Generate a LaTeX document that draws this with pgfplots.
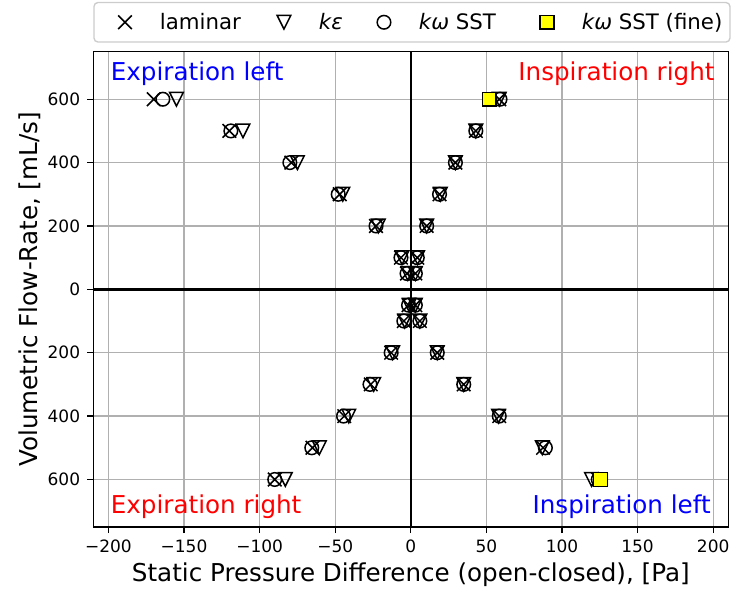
\documentclass[border=0pt]{standalone}
\usepackage{fontspec}
\setmainfont{DejaVu Sans}
\usepackage{pgfplots}
\usepackage{pgfplotstable}
\pgfplotsset{compat=1.18}
\definecolor{gridgray}{HTML}{B0B0B0}
\definecolor{legframe}{HTML}{CCCCCC}
\definecolor{fineyellow}{HTML}{FFFF00}
\pgfdeclareplotmark{tridown}{%
 \pgfpathmoveto{\pgfqpoint{0pt}{-\pgfplotmarksize}}%
 \pgfpathlineto{\pgfqpoint{-\pgfplotmarksize}{\pgfplotmarksize}}%
 \pgfpathlineto{\pgfqpoint{\pgfplotmarksize}{\pgfplotmarksize}}%
 \pgfpathclose\pgfusepathqstroke}
\pgfplotsset{myleg/.style={legend image code/.code={\path[draw=none,fill=none] (0bp,-10bp) rectangle (42bp,10bp); \draw[##1] plot coordinates {(21bp,0bp)};}}}

\pgfplotstableread{
x y
-170 600
-120 500
-79 400
-47 300
-23 200
-6.5 100
-2.5 50
-1.5 -50
-4.6 -100
-13 -200
-26.5 -300
-44 -400
-65 -500
-90 -600
58.5 600
43 500
29.5 400
19 300
10.5 200
4.3 100
3 50
3 -50
6 -100
17.5 -200
35 -300
58.5 -400
87.5 -500
124 -600
}\laminar

\pgfplotstableread{
x y
-155 600
-111 500
-75 400
-45 300
-21.5 200
-5.8 100
-2 50
-1 -50
-4 -100
-12 -200
-24.5 -300
-41 -400
-60.5 -500
-83 -600
58.5 600
43 500
29.5 400
19.5 300
10.5 200
4.5 100
3 50
3 -50
6 -100
17.5 -200
35 -300
58 -400
87 -500
119.5 -600
}\keps

\pgfplotstableread{
x y
-164 600
-119 500
-80 400
-48 300
-23 200
-6.5 100
-2.5 50
-1.5 -50
-4.6 -100
-13 -200
-27 -300
-44.5 -400
-65.5 -500
-90 -600
59 600
43 500
29.5 400
19 300
10.5 200
4.3 100
3 50
3 -50
6 -100
17.5 -200
35 -300
58.5 -400
89 -500
124 -600
}\komega

\pgfplotstableread{
x y
52 600
125.5 -600
}\komegafine

\begin{document}
\begin{tikzpicture}
\useasboundingbox (0,0) rectangle (732bp,589bp);
\begin{axis}[
  at={(93.3bp,62bp)}, anchor=south west,
  width=635bp, height=475.3bp, scale only axis,
  xmin=-210, xmax=210, ymin=-750, ymax=750,
  xtick={-200,-150,-100,-50,0,50,100,150,200},
  xticklabels={−200,−150,−100,−50,0,50,100,150,200},
  ytick={-600,-400,-200,0,200,400,600},
  yticklabels={600,400,200,0,200,400,600},
  grid=major,
  grid style={gridgray, line width=1.36bp},
  axis line style={black, line width=1.36bp},
  tick style={black, line width=1.36bp},
  major tick length=6bp,
  tick align=outside,
  xtick pos=bottom, ytick pos=left,
  ticklabel style={font=\fontsize{17bp}{20bp}\selectfont},
  xticklabel style={anchor=north, inner sep=0pt, yshift=-7bp},
  yticklabel style={anchor=east, inner sep=0pt, xshift=-7bp},
  xlabel={Static Pressure Difference (open-closed), [Pa]},
  ylabel={Volumetric Flow-Rate, [mL/s]},
  label style={font=\fontsize{24.6bp}{29bp}\selectfont, inner sep=0pt},
  xlabel style={at={(axis description cs:0.5,-0.1157)}, anchor=base},
  ylabel style={at={(axis description cs:-0.0879,0.5)}, anchor=base},
  legend columns=4,
  legend style={at={(rel axis cs:0,1)}, anchor=south west, yshift=9bp,
    draw=legframe, line width=1.36bp, rounded corners=4bp, fill=white,
    inner xsep=10bp, inner ysep=9.75bp, column sep=0pt,
    nodes={inner sep=0pt, anchor=west},
    font=\fontsize{21.3bp}{25bp}\selectfont},
]
\draw[black, line width=2.5bp] (axis cs:0,-750) -- (axis cs:0,750);
\draw[black, line width=2.5bp] (axis cs:-210,0) -- (axis cs:210,0);

\addplot[only marks, mark=x, mark size=9.6bp, mark options={black, line width=1.5bp}, myleg] table {\laminar};
\addlegendentry{\makebox[117bp][l]{\hspace*{14bp}laminar\rule[-4bp]{0pt}{20bp}}}
\addplot[only marks, mark=tridown, mark size=6.8bp, mark options={black, line width=1.5bp}, myleg] table {\keps};
\addlegendentry{\makebox[58bp][l]{\hspace*{14bp}\textit{kε}\rule[-4bp]{0pt}{20bp}}}
\addplot[only marks, mark=o, mark size=6.8bp, mark options={black, line width=1.5bp}, myleg] table {\komega};
\addlegendentry{\makebox[121bp][l]{\hspace*{14bp}\textit{kω} SST\rule[-4bp]{0pt}{20bp}}}
\addplot[only marks, mark=square*, mark size=6.8bp, mark options={draw=black, fill=fineyellow, line width=1.5bp}, myleg] table {\komegafine};
\addlegendentry{\makebox[152bp][l]{\hspace*{14bp}\textit{kω} SST (fine)\rule[-4bp]{0pt}{20bp}}}

\node[anchor=base west, inner sep=0pt, text=blue, font=\fontsize{24.6bp}{29bp}\selectfont] at (axis cs:-198.5,658) {Expiration left};
\node[anchor=base east, inner sep=0pt, text=red, font=\fontsize{24.6bp}{29bp}\selectfont] at (axis cs:201,658) {Inspiration right};
\node[anchor=base west, inner sep=0pt, text=red, font=\fontsize{24.6bp}{29bp}\selectfont] at (axis cs:-198.5,-708) {Expiration right};
\node[anchor=base east, inner sep=0pt, text=blue, font=\fontsize{24.6bp}{29bp}\selectfont] at (axis cs:198.5,-708) {Inspiration left};
\end{axis}
\end{tikzpicture}
\end{document}
